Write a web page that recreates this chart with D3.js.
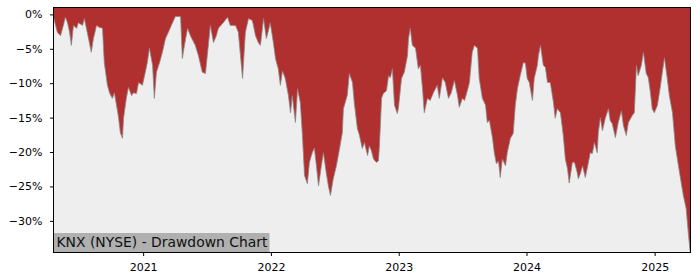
<!DOCTYPE html>
<html>
<head>
<meta charset="utf-8">
<script src="https://cdn.jsdelivr.net/npm/d3@7"></script>
<style>
  body { margin: 0; background: #fff; }
  #chart { width: 700px; height: 280px; }
  text { font-family: "DejaVu Sans", sans-serif; }
</style>
</head>
<body>
<div id="chart"></div>
<script>
// KNX drawdown (percent below running high)
let dates = [
  "2020-04-20","2020-04-26","2020-05-01","2020-05-10","2020-05-18","2020-05-24","2020-05-30","2020-06-05",
  "2020-06-10","2020-06-16","2020-06-25","2020-06-30","2020-07-12","2020-07-17","2020-07-23","2020-07-29",
  "2020-08-06","2020-08-12","2020-08-21","2020-08-29","2020-09-07","2020-09-12","2020-09-21","2020-09-27",
  "2020-10-05","2020-10-11","2020-10-17","2020-10-22","2020-10-28","2020-11-03","2020-11-06","2020-11-14",
  "2020-11-20","2020-11-29","2020-12-04","2020-12-13","2020-12-19","2020-12-30","2021-01-05","2021-01-13",
  "2021-01-19","2021-01-28","2021-02-02","2021-02-08","2021-02-17","2021-02-25","2021-03-06","2021-03-14",
  "2021-03-26","2021-04-03","2021-04-18","2021-04-23","2021-04-29","2021-05-08","2021-05-16","2021-05-30",
  "2021-06-08","2021-06-19","2021-06-28","2021-07-07","2021-07-12","2021-07-21","2021-07-29","2021-08-04",
  "2021-08-18","2021-08-30","2021-09-07","2021-09-22","2021-09-30","2021-10-12","2021-10-20","2021-10-29",
  "2021-11-09","2021-11-18","2021-11-26","2021-12-02","2021-12-11","2021-12-19","2021-12-25","2021-12-30",
  "2022-01-08","2022-01-14","2022-01-22","2022-01-28","2022-02-03","2022-02-11","2022-02-20","2022-02-26",
  "2022-03-03","2022-03-12","2022-03-18","2022-03-26","2022-04-01","2022-04-07","2022-04-15","2022-04-21",
  "2022-04-29","2022-05-05","2022-05-11","2022-05-17","2022-05-25","2022-05-31","2022-06-08","2022-06-14",
  "2022-06-20","2022-06-28","2022-07-07","2022-07-16","2022-07-24","2022-07-27","2022-08-07","2022-08-13",
  "2022-08-22","2022-08-27","2022-09-05","2022-09-11","2022-09-19","2022-09-25","2022-10-04","2022-10-09",
  "2022-10-15","2022-10-21","2022-10-29","2022-11-04","2022-11-07","2022-11-13","2022-11-18","2022-11-27",
  "2022-12-03","2022-12-08","2022-12-14","2022-12-20","2022-12-28","2022-12-31","2023-01-09","2023-01-17",
  "2023-01-26","2023-01-29","2023-02-03","2023-02-09","2023-02-18","2023-02-26","2023-03-04","2023-03-10",
  "2023-03-15","2023-03-24","2023-04-01","2023-04-10","2023-04-21","2023-04-27","2023-05-06","2023-05-14",
  "2023-05-23","2023-05-31","2023-06-09","2023-06-18","2023-06-23","2023-07-02","2023-07-08","2023-07-16",
  "2023-07-22","2023-07-30","2023-08-05","2023-08-14","2023-08-19","2023-08-28","2023-09-06","2023-09-11",
  "2023-09-17","2023-09-26","2023-10-01","2023-10-07","2023-10-13","2023-10-18","2023-10-24","2023-11-02",
  "2023-11-07","2023-11-16","2023-11-24","2023-11-30","2023-12-06","2023-12-14","2023-12-23","2023-12-29",
  "2024-01-03","2024-01-09","2024-01-18","2024-01-23","2024-02-01","2024-02-04","2024-02-10","2024-02-18",
  "2024-02-24","2024-03-01","2024-03-09","2024-03-18","2024-03-23","2024-03-29","2024-04-07","2024-04-15",
  "2024-04-21","2024-04-27","2024-05-02","2024-05-11","2024-05-17","2024-05-25","2024-05-28","2024-06-03",
  "2024-06-09","2024-06-17","2024-06-26","2024-07-01","2024-07-07","2024-07-13","2024-07-21","2024-07-24",
  "2024-07-30","2024-08-05","2024-08-13","2024-08-22","2024-08-27","2024-09-02","2024-09-11","2024-09-19",
  "2024-09-28","2024-10-04","2024-10-12","2024-10-18","2024-10-29","2024-11-04","2024-11-10","2024-11-15",
  "2024-11-24","2024-11-30","2024-12-08","2024-12-14","2024-12-20","2024-12-25","2024-12-31","2025-01-09",
  "2025-01-17","2025-01-23","2025-01-29","2025-02-06","2025-02-12","2025-02-21","2025-03-01","2025-03-10",
  "2025-03-18","2025-03-24","2025-04-01","2025-04-07","2025-04-10","2025-04-12"
];

let drawdown = [
  -0.4,-1.6,-2.6,-3.1,-1.6,-0.4,-1.2,-2.6,
  -4.5,-1.6,-2.0,-1.2,-1.6,-0.6,-2.0,-3.5,
  -5.5,-3.5,-1.6,-1.9,-2.0,-7.0,-10.3,-11.4,
  -12.2,-11.4,-13.2,-14.7,-17.2,-18.0,-15.1,-12.2,
  -10.6,-11.8,-11.4,-11.5,-9.9,-10.3,-8.9,-7.0,
  -4.9,-7.4,-12.2,-8.4,-7.0,-5.5,-3.5,-2.6,
  -1.2,-0.3,-0.3,-6.4,-4.5,-2.0,-3.1,-4.5,
  -6.0,-8.4,-8.6,-4.1,-1.6,-4.1,-3.1,-2.0,
  -1.2,-0.4,-1.6,-1.6,-2.6,-9.3,-2.6,-0.6,
  -0.9,-3.1,-4.1,-4.5,-0.6,-3.5,-2.3,-1.2,
  -4.1,-6.4,-7.9,-10.3,-8.2,-9.3,-11.8,-14.3,
  -11.8,-15.7,-10.8,-12.8,-17.6,-23.4,-24.6,-21.5,
  -20.1,-19.4,-22.0,-24.9,-22.0,-20.1,-23.0,-24.9,
  -26.3,-23.9,-22.0,-19.5,-17.2,-13.7,-11.8,-8.6,
  -9.9,-12.8,-16.6,-17.6,-19.5,-18.6,-20.5,-19.1,
  -19.8,-21.0,-21.5,-21.3,-19.1,-12.2,-11.5,-11.1,
  -8.9,-9.2,-7.9,-13.2,-14.4,-13.7,-9.3,-8.4,
  -6.0,-3.5,-2.0,-4.5,-4.9,-7.9,-7.4,-10.8,
  -14.3,-12.2,-12.5,-11.4,-10.3,-12.2,-9.2,-9.9,
  -12.2,-11.4,-9.6,-11.8,-13.5,-12.2,-12.5,-11.1,
  -9.9,-5.5,-4.5,-4.9,-9.3,-12.2,-13.2,-15.7,
  -15.4,-18.0,-20.1,-21.7,-21.3,-23.7,-21.0,-22.0,
  -20.1,-18.0,-17.3,-13.2,-10.8,-8.9,-7.0,-7.1,
  -9.3,-9.9,-12.5,-9.3,-7.4,-6.0,-4.5,-7.4,
  -7.7,-9.9,-9.9,-12.8,-15.1,-13.7,-14.3,-17.6,
  -21.0,-22.4,-24.5,-21.5,-21.5,-23.0,-23.9,-23.1,
  -22.0,-23.7,-21.5,-20.1,-20.2,-18.6,-20.1,-17.2,
  -15.0,-16.9,-15.1,-13.7,-15.4,-15.9,-17.9,-15.7,
  -14.0,-16.2,-17.6,-15.7,-14.7,-14.3,-7.4,-8.9,
  -7.4,-5.5,-8.6,-9.2,-11.4,-13.7,-14.3,-13.2,
  -10.6,-8.4,-6.3,-9.3,-11.8,-14.3,-19.1,-22.0,
  -24.5,-26.3,-28.2,-31.7,-33.3,-34.4
];

let yTicks = [0, -5, -10, -15, -20, -25, -30];
let xTicks = ["2021-01-01", "2022-01-01", "2023-01-01", "2024-01-01", "2025-01-01"];
let title = "KNX (NYSE) - Drawdown Chart";

let parseDate = d3.timeParse("%Y-%m-%d");
let data = dates.map((d, i) => ({ date: parseDate(d), dd: drawdown[i] }));

let pLeft = 53.5, pRight = 690.5, pTop = 7.5, pBottom = 252.5;

let svg = d3.select("#chart").append("svg")
  .attr("width", 700)
  .attr("height", 280);

let x = d3.scaleTime()
  .domain(d3.extent(data, d => d.date))
  .range([pLeft, pRight - 0.5]);

let y = d3.scaleLinear()
  .domain([-34.6, 1.0])
  .range([pBottom, pTop]);

svg.append("defs").append("clipPath")
  .attr("id", "plotclip")
  .append("rect")
  .attr("x", pLeft).attr("y", pTop)
  .attr("width", pRight - pLeft).attr("height", pBottom - pTop);

// plot background
svg.append("rect")
  .attr("x", pLeft).attr("y", pTop)
  .attr("width", pRight - pLeft).attr("height", pBottom - pTop)
  .attr("fill", "#eeeeee");

let plot = svg.append("g").attr("clip-path", "url(#plotclip)");

// red fill from the top of the axes down to the drawdown
let area = d3.area()
  .x(d => x(d.date))
  .y0(pTop)
  .y1(d => y(d.dd));

plot.append("path")
  .datum(data)
  .attr("fill", "#b03030")
  .attr("d", area);

let line = d3.line()
  .x(d => x(d.date))
  .y(d => y(d.dd));

plot.append("path")
  .datum(data)
  .attr("fill", "none")
  .attr("stroke", "#888")
  .attr("stroke-width", 0.8)
  .attr("d", line);

// label box in the lower left corner
let label = svg.append("g");
label.append("rect")
  .attr("x", pLeft)
  .attr("y", 233)
  .attr("width", 216)
  .attr("height", pBottom - 233)
  .attr("fill", "#b0b0b0");
label.append("text")
  .attr("x", 56.5)
  .attr("y", 246.7)
  .attr("font-size", "13.9px")
  .attr("fill", "#111")
  .text(title);

// axes
let yAxis = d3.axisLeft(y)
  .tickValues(yTicks)
  .tickSize(3.5)
  .tickPadding(7.5)
  .tickFormat(d => (d < 0 ? "\u2212" + Math.abs(d) : d) + "%");

let gy = svg.append("g")
  .attr("transform", `translate(${pLeft},0)`)
  .call(yAxis);
gy.select(".domain").remove();
gy.selectAll("text").attr("font-size", "11px").attr("fill", "#000").attr("font-family", "DejaVu Sans");
gy.selectAll("line").attr("stroke", "#000").attr("x1", -0.5);

let xAxis = d3.axisBottom(x)
  .tickValues(xTicks.map(parseDate))
  .tickSize(3.5)
  .tickPadding(3.5)
  .tickFormat(d3.timeFormat("%Y"));

let gx = svg.append("g")
  .attr("transform", `translate(0,${pBottom})`)
  .call(xAxis);
gx.select(".domain").remove();
gx.selectAll("text")
  .attr("font-size", "11px")
  .attr("fill", "#000")
  .attr("font-family", "DejaVu Sans")
  .attr("y", 11)
  .attr("dy", "0.71em");
gx.selectAll("line").attr("stroke", "#000");

// spines
svg.append("rect")
  .attr("x", pLeft).attr("y", pTop)
  .attr("width", pRight - pLeft).attr("height", pBottom - pTop)
  .attr("fill", "none")
  .attr("stroke", "#000")
  .attr("stroke-width", 1);
</script>
</body>
</html>
